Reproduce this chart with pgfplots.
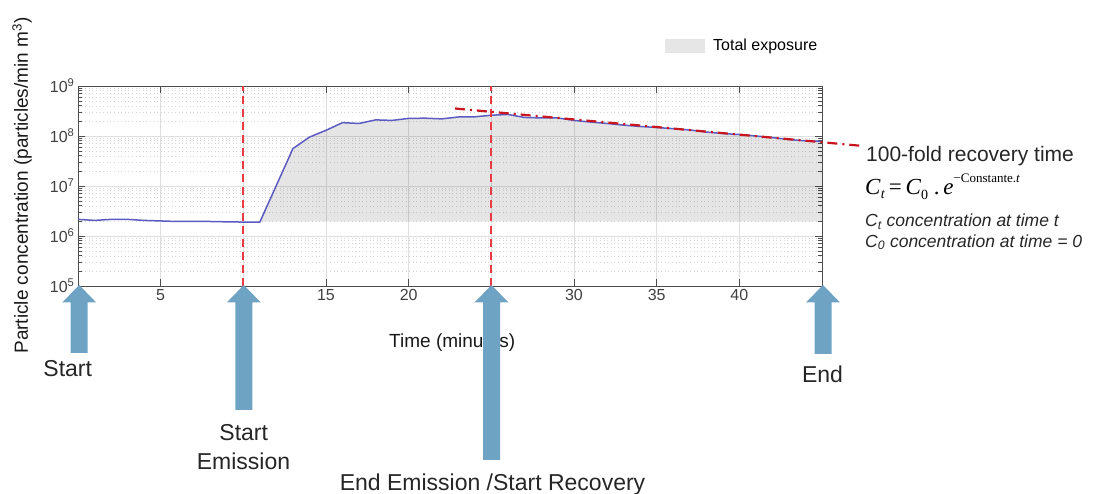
\documentclass[border=0pt]{standalone}
\usepackage{pgfplots}
\pgfplotsset{compat=1.18}
\usepackage{fontspec}
\setmainfont{Liberation Sans}
\newfontfamily\tnr{Liberation Serif}

\definecolor{linecol}{HTML}{5B5BC2}
\definecolor{emired}{HTML}{EC3A42}
\definecolor{fitred}{HTML}{C8161E}
\definecolor{arrowblue}{HTML}{6FA3C4}
\definecolor{expo}{HTML}{E6E6E6}

% big up arrows below the time axis: x of tip, y of shaft bottom
\newcommand{\uparr}[2]{\fill[arrowblue] (#1,-285) -- (#1+17,-302.5) -- (#1+8.5,-302.5) -- (#1+8.5,-#2) -- (#1-8.5,-#2) -- (#1-8.5,-302.5) -- (#1-17,-302.5) -- cycle;}

\pgfplotstableread{
t conc
0 2.15e6
1 2.05e6
2 2.15e6
3 2.15e6
4 2.05e6
5 2.0e6
6 1.95e6
7 1.95e6
8 1.95e6
9 1.92e6
10 1.9e6
11 1.9e6
13 5.6e7
14 9.5e7
15 1.3e8
16 1.85e8
17 1.78e8
18 2.1e8
19 2.05e8
20 2.25e8
21 2.27e8
22 2.2e8
23 2.4e8
24 2.42e8
25 2.6e8
26 2.7e8
27 2.35e8
28 2.3e8
29 2.3e8
30 2.05e8
31 1.9e8
32 1.78e8
33 1.65e8
34 1.55e8
35 1.48e8
36 1.4e8
37 1.32e8
38 1.2e8
39 1.12e8
40 1.07e8
41 1.0e8
42 9.3e7
43 8.5e7
44 8.0e7
45 7.8e7
}\conc

\begin{document}
\begin{tikzpicture}[x=1pt,y=1pt]
\useasboundingbox (0,0) rectangle (1096,-494);
\begin{axis}[
  at={(78pt,-286pt)}, anchor=south west,
  scale only axis, width=744pt, height=200pt,
  xmin=0, xmax=45, ymode=log, ymin=1e5, ymax=1e9,
  clip=false,
  xtick={0,5,...,45}, xticklabels={,5,,15,20,,30,35,40,},
  ytick={1e5,1e6,1e7,1e8,1e9},
  yticklabels={10\textsuperscript{5},10\textsuperscript{6},10\textsuperscript{7},10\textsuperscript{8},10\textsuperscript{9}},
  minor ytick={2e5,3e5,4e5,5e5,6e5,7e5,8e5,9e5,2e6,3e6,4e6,5e6,6e6,7e6,8e6,9e6,2e7,3e7,4e7,5e7,6e7,7e7,8e7,9e7,2e8,3e8,4e8,5e8,6e8,7e8,8e8,9e8},
  xmajorgrids, ymajorgrids, yminorgrids,
  major grid style={gray!25, line width=0.8pt},
  minor grid style={gray!32, line width=0.7pt, dash pattern=on 1pt off 2.6pt},
  axis line style={black!70, line width=0.9pt},
  tick align=inside, major tick length=7pt, minor tick length=4pt,
  tick style={black!70, line width=0.8pt},
  tick label style={font=\fontsize{16}{16}\selectfont, text=black!75},
  xlabel={Time (minutes)},
  xlabel style={at={(axis description cs:0.503,-0.31)}, anchor=base, font=\fontsize{19}{19}\selectfont, text=black!90},
  ylabel={Particle concentration (particles/min m\textsuperscript{3})},
  ylabel style={at={(axis description cs:-0.0673,0.5025)}, anchor=base, font=\fontsize{19}{19}\selectfont, text=black!90},
  legend style={at={(axis description cs:0.789,1.201)}, anchor=west, draw=none, fill=none,
    font=\fontsize{16}{16}\selectfont, inner sep=0pt},
  legend cell align=left,
]
\addplot[draw=none, fill=black, fill opacity=0.1,
  legend image code/.code={\fill[expo, fill opacity=1] (0pt,-7pt) rectangle (40pt,7pt); \path (46pt,0pt);}]
  coordinates {(11,1.95e6) (13,5.6e7) (14,9.5e7) (15,1.3e8) (16,1.85e8) (17,1.78e8)
  (18,2.1e8) (19,2.05e8) (20,2.25e8) (21,2.27e8) (22,2.2e8) (23,2.4e8) (24,2.42e8)
  (25,2.6e8) (26,2.7e8) (27,2.35e8) (28,2.3e8) (29,2.3e8) (30,2.05e8) (31,1.9e8)
  (32,1.78e8) (33,1.65e8) (34,1.55e8) (35,1.48e8) (36,1.4e8) (37,1.32e8) (38,1.2e8)
  (39,1.12e8) (40,1.07e8) (41,1.0e8) (42,9.3e7) (43,8.5e7) (44,8.0e7) (45,7.8e7)
  (45,1.95e6)} -- cycle;
\addlegendentry{Total exposure}
\addplot[draw=linecol, line width=1.5pt] table[x=t, y=conc] {\conc};
\addplot[forget plot, draw=emired, line width=2.2pt, dash pattern=on 8pt off 5pt] coordinates {(10,1e5) (10,1e9)};
\addplot[forget plot, draw=emired, line width=2.2pt, dash pattern=on 8pt off 5pt] coordinates {(25,1e5) (25,1e9)};
\addplot[draw=fitred, line width=2.2pt, dash pattern=on 10pt off 5pt on 2pt off 5pt] coordinates {(22.8,3.55e8) (47.5,6.3e7)};
\end{axis}

\uparr{79.2}{353}
\uparr{243.8}{410}
\uparr{491.5}{460}
\uparr{823}{354}

\begin{scope}[every node/.style={inner sep=0pt, text=black!85, font=\fontsize{23}{23}\selectfont}]
\node[anchor=base] at (67.7,-377) {Start};
\node[anchor=base] at (243.7,-440.7) {Start};
\node[anchor=base] at (243.5,-470) {Emission};
\node[anchor=base] at (492.5,-490) {End Emission /Start Recovery};
\node[anchor=base] at (822.5,-382.7) {End};
\end{scope}

\node[anchor=base west, inner sep=0pt, text=black!85, font=\fontsize{21}{21}\selectfont] at (866,-161.7) {100-fold recovery time};
\node[anchor=base west, inner sep=0pt, font=\tnr\fontsize{23}{23}\selectfont] at (865,-195)
  {\textit{C}\lower4pt\hbox{\fontsize{14}{14}\selectfont\textit{t}}\,=\,\textit{C}\lower5pt\hbox{\fontsize{14}{14}\selectfont 0}\ .\,\textit{e}\raise12pt\hbox{\fontsize{13}{13}\selectfont −Constante.\textit{t}}};
\node[anchor=base west, inner sep=0pt, text=black!85, font=\fontsize{17.5}{17.5}\selectfont\itshape] at (865,-226.7) {C\textsubscript{t} concentration at time t};
\node[anchor=base west, inner sep=0pt, text=black!85, font=\fontsize{17.5}{17.5}\selectfont\itshape] at (865,-247.3) {C\textsubscript{0} concentration at time = 0};
\end{tikzpicture}
\end{document}
